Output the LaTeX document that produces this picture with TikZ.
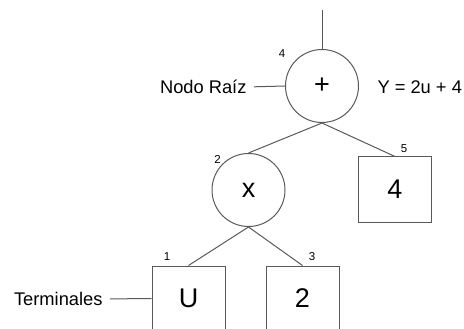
\documentclass[tikz,border=0pt]{standalone}
\usepackage{fontspec}
\setmainfont{Liberation Sans}
\begin{document}
\begin{tikzpicture}[x=1pt,y=-1pt,
  line width=1pt,
  op/.style={circle, draw=black!65, minimum size=73pt, inner sep=0pt, font=\fontsize{27}{30}\selectfont},
  leaf/.style={rectangle, draw=black!65, minimum width=73pt, minimum height=65pt, inner sep=0pt, font=\fontsize{27}{30}\selectfont},
  idx/.style={inner sep=0pt, font=\fontsize{11.5}{13}\selectfont},
  note/.style={inner sep=0pt, font=\fontsize{18.3}{22}\selectfont},
  link/.style={draw=black!65}]
\useasboundingbox (0,0) rectangle (464,329);
\clip (0,0) rectangle (464,329);
\node[op] (root) at (322,86) {+};
\node[op] (mul) at (248.5,190) {x};
\node[leaf] (four) at (395,189.5) {4};
\node[leaf] (uu) at (188.5,298.5) {U};
\node[leaf] (two) at (302.5,298.5) {2};
\coordinate (top) at (322,10);
\draw[link] (top) -- (root.north);
\draw[link] (root.south) -- (mul.north);
\draw[link] (root.south) -- (four.north);
\draw[link] (mul.south) -- (uu.north);
\draw[link] (mul.south) -- (two.north);
\node[idx] (n4) at (282,54) {4};
\node[idx] (n2) at (217.5,159.5) {2};
\node[idx] (n5) at (404,149) {5};
\node[idx] (n1) at (167,257) {1};
\node[idx] (n3) at (312,257) {3};
\node[note, anchor=east] (raiz) at (247,87) {Nodo Raíz};
\draw[link, shorten <=7pt] (raiz.east) -- (root.west);
\node[note, anchor=west] (eq) at (377,87) {Y = 2u + 4};
\node[note, anchor=east] (term) at (103,299) {Terminales};
\draw[link, shorten <=7pt] (term.east) -- (uu.west);
\end{tikzpicture}
\end{document}
